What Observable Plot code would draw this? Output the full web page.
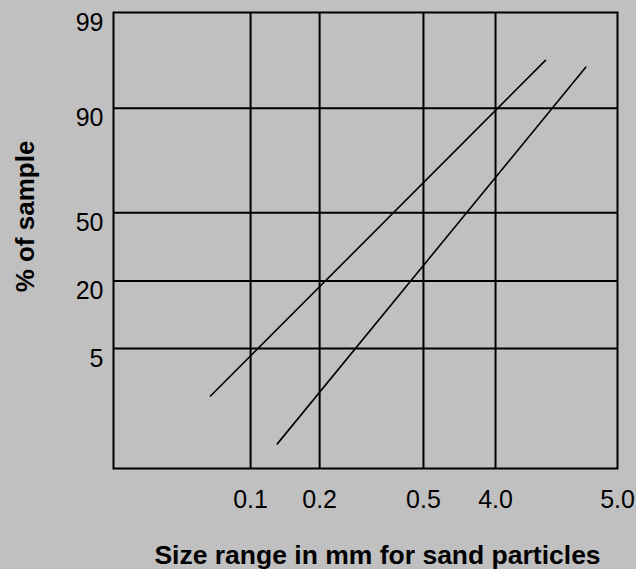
<!DOCTYPE html>
<html>
<head>
<meta charset="utf-8">
<script src="https://cdn.jsdelivr.net/npm/d3@7"></script>
<script src="https://cdn.jsdelivr.net/npm/@observablehq/plot@0.6"></script>
<style>
  html, body { margin: 0; padding: 0; background: #c0c0c0; }
  #chart { width: 636px; height: 569px; }
</style>
</head>
<body>
<div id="chart"></div>
<script>
// Tick labels and their (non-uniform, probability-paper style) scale values
const xLabels = ["0.1", "0.2", "0.5", "4.0", "5.0"];
const xValues = [27.2, 40.9, 61.5, 75.8, 100];
const yLabels = ["5", "20", "50", "90", "99"];
const yValues = [26.3, 41.1, 56.1, 79.0, 100];

// Gridlines (inner ones only; outer edges are the frame)
const xGrid = [27.2, 40.9, 61.5, 75.8];
const yGrid = [26.3, 41.1, 56.1, 79.0];

// Two size-distribution lines (scale units)
const lineA = [{x: 19.25, y: 15.9}, {x: 85.7, y: 89.5}];
const lineB = [{x: 32.5, y: 5.4}, {x: 93.7, y: 88.0}];

const font = "'Liberation Sans', Arial, Helvetica, sans-serif";

const chart = Plot.plot({
  width: 636,
  height: 569,
  marginLeft: 113,
  marginRight: 19,
  marginTop: 12,
  marginBottom: 101,
  style: {background: "#c0c0c0", fontFamily: font, color: "#000"},
  x: {domain: [0, 100], axis: null},
  y: {domain: [0, 100], axis: null},
  marks: [
    Plot.ruleX(xGrid, {stroke: "#000", strokeWidth: 2}),
    Plot.ruleY(yGrid, {stroke: "#000", strokeWidth: 2}),
    Plot.frame({stroke: "#000", strokeWidth: 2}),
    Plot.line(lineA, {x: "x", y: "y", stroke: "#000", strokeWidth: 1.6}),
    Plot.line(lineB, {x: "x", y: "y", stroke: "#000", strokeWidth: 1.6}),
    Plot.axisX(xValues, {
      anchor: "bottom", tickSize: 0, tickPadding: 22, fontSize: 25,
      tickFormat: d => xLabels[xValues.indexOf(d)], label: null
    }),
    Plot.axisY(yValues, {
      anchor: "left", tickSize: 0, tickPadding: 10, fontSize: 25, dy: 10,
      tickFormat: d => yLabels[yValues.indexOf(d)], label: null
    }),
    Plot.text(["Size range in mm for sand particles"], {
      frameAnchor: "bottom", lineAnchor: "bottom", dx: 12, dy: 95,
      fontSize: 26.5, fontWeight: "bold"
    }),
    Plot.text(["% of sample"], {
      frameAnchor: "left", textAnchor: "middle", lineAnchor: "middle",
      rotate: -90, dx: -88, dy: -24,
      fontSize: 26, fontWeight: "bold"
    })
  ]
});
document.getElementById("chart").appendChild(chart);
</script>
</body>
</html>
